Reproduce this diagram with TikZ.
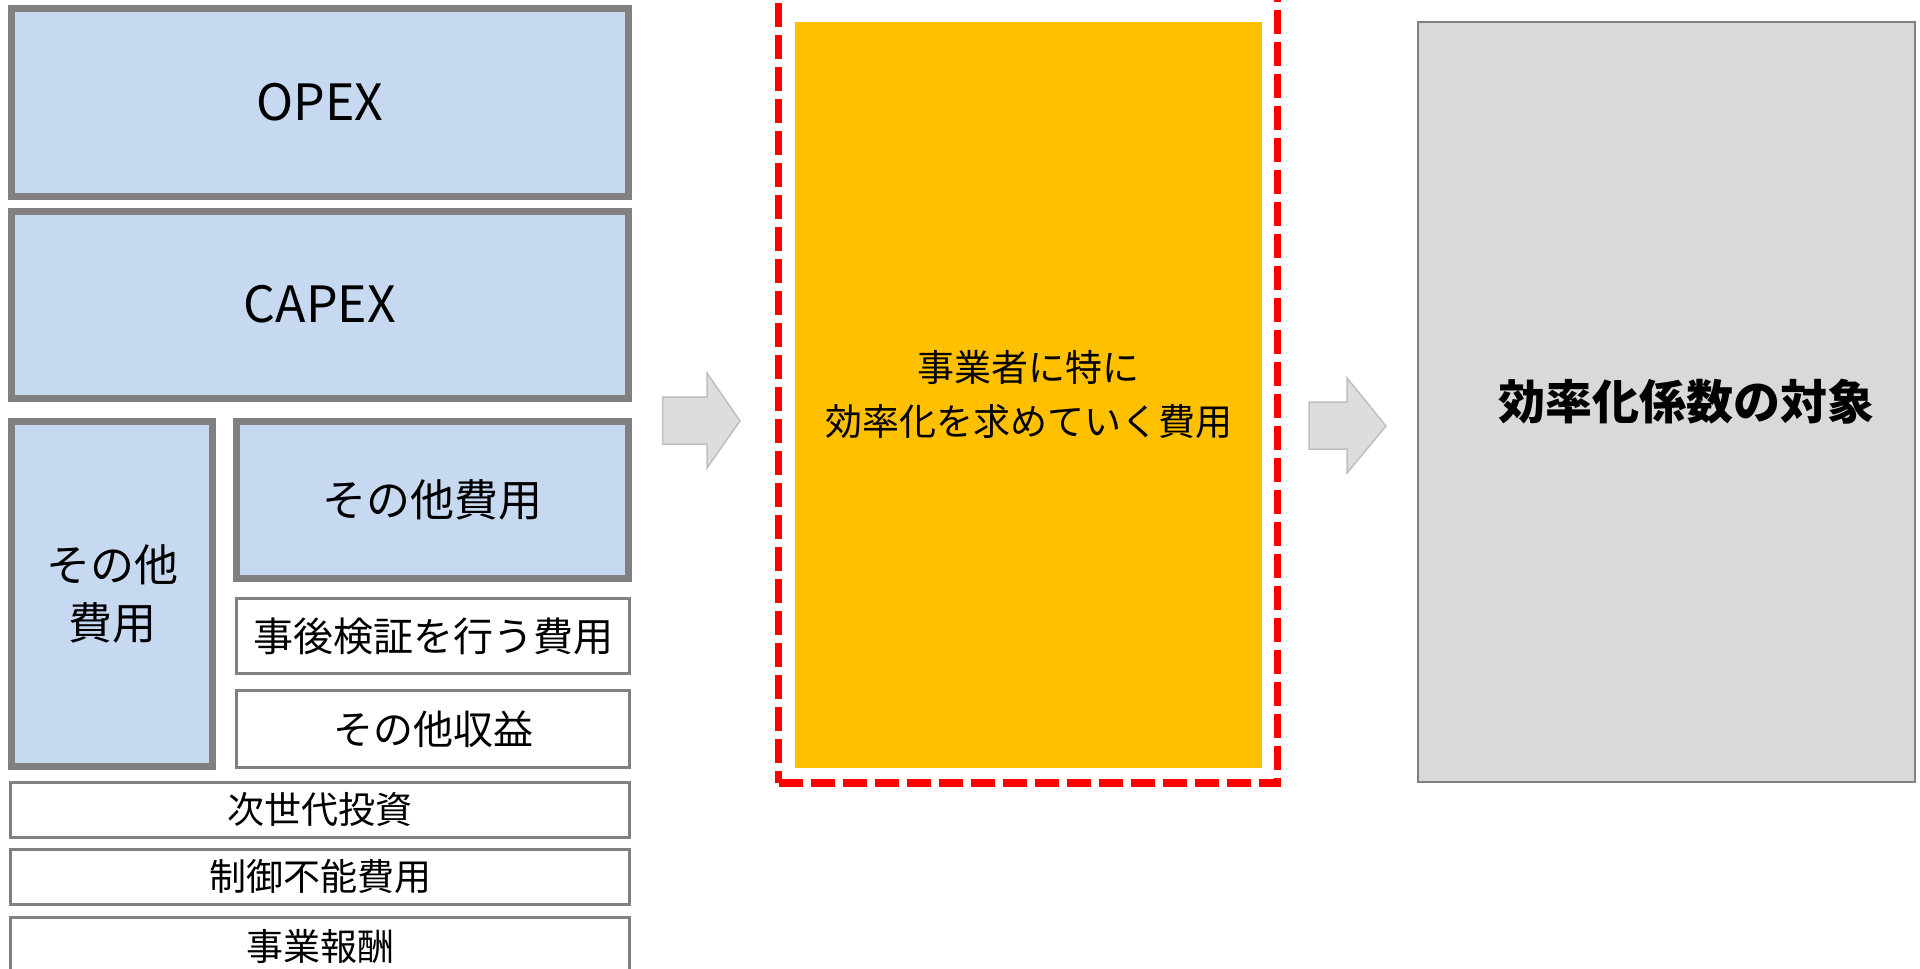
\documentclass[tikz,border=0pt]{standalone}
\usepackage{fontspec}
\setmainfont{Noto Sans CJK JP}
\definecolor{bluefill}{HTML}{C6D9F0}
\definecolor{boxgray}{HTML}{808080}
\definecolor{orangefill}{HTML}{FFC000}
\definecolor{grayfill}{HTML}{D9D9D9}
\definecolor{arrowfill}{HTML}{DDDDDD}
\definecolor{arrowline}{HTML}{BFBFBF}
\definecolor{dashred}{HTML}{FF0000}
\newcommand{\fs}[1]{\fontsize{#1}{#1}\selectfont}
\begin{document}
\begin{tikzpicture}[x=1pt,y=-1pt,
  thickbox/.style={draw=boxgray, line width=7pt, fill=bluefill, inner sep=0pt, outer sep=0pt, align=center},
  thinbox/.style={draw=boxgray, line width=3pt, fill=white, inner sep=0pt, outer sep=0pt, align=center},
  blockarrow/.style={fill=arrowfill, draw=arrowline, line width=1.5pt},
  every node/.style={text=black}]
\useasboundingbox (0,0) rectangle (1920,969);
\clip (0,0) rectangle (1920,969);
\fill[white] (0,0) rectangle (1920,969);

% left stack
\node[thickbox, minimum width=617pt, minimum height=188pt, font=\fs{50}] (opex) at (320,102.5) {OPEX};
\node[thickbox, minimum width=617pt, minimum height=187pt, font=\fs{50}] (capex) at (320,304.5) {CAPEX};
\node[thickbox, minimum width=201pt, minimum height=345pt, font={\fontsize{44}{58}\selectfont}] (otherL) at (112,594) {その他\\費用};
\node[thickbox, minimum width=392pt, minimum height=157pt, font=\fs{44}] (otherR) at (432.5,500) {その他費用};
\node[thinbox, minimum width=393pt, minimum height=75pt, font=\fs{40}] (verify) at (433,636) {事後検証を行う費用};
\node[thinbox, minimum width=393pt, minimum height=76.5pt, font=\fs{40}] (income) at (433,728.75) {その他収益};
\node[thinbox, minimum width=619pt, minimum height=55pt, font=\fs{37}] (nextgen) at (320,809.5) {次世代投資};
\node[thinbox, minimum width=619pt, minimum height=55pt, font=\fs{37}] (uncontrol) at (320,876.5) {制御不能費用};
\node[thinbox, minimum width=619pt, minimum height=58pt, font=\fs{37}] (reward) at (320,946) {事業報酬};

% middle
\node[draw=dashred, line width=7.5pt, dash pattern=on 24pt off 8pt, minimum width=499pt, minimum height=803pt, inner sep=0pt] (focus) at (1028.2,381.5) {};
\node[fill=orangefill, minimum width=467pt, minimum height=745.7pt, inner sep=0pt, align=center, font={\fontsize{37}{54}\selectfont}] (cost) at (1028.5,394.85) {事業者に特に\\効率化を求めていく費用};

% right
\node[draw=boxgray, line width=2pt, fill=grayfill, minimum width=497pt, minimum height=760pt, inner sep=0pt, font={\fs{47}\bfseries}] (target) at (1666.5,402) {\hspace*{40pt}効率化係数の対象};

% block arrows
\filldraw[blockarrow] (662.5,397) -- (707,397) -- (707,373) -- (740,421) -- (707,468) -- (707,444) -- (662.5,444) -- cycle;
\filldraw[blockarrow] (1309,402) -- (1347,402) -- (1347,378) -- (1386,426) -- (1347,473) -- (1347,449) -- (1309,449) -- cycle;
\end{tikzpicture}
\end{document}
